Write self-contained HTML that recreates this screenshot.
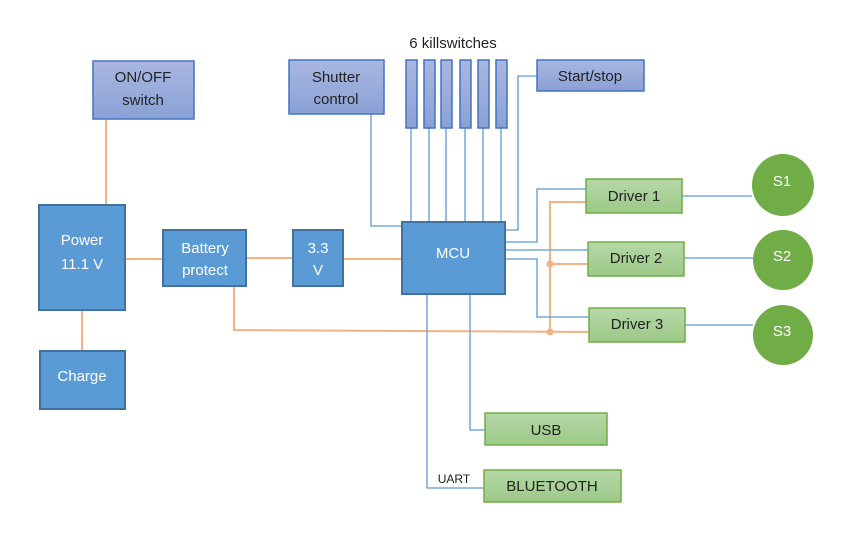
<!DOCTYPE html>
<html><head><meta charset="utf-8"><style>
html,body{margin:0;padding:0;background:#fff;}
svg{display:block;font-family:"Liberation Sans",sans-serif;}
</style></head><body>
<svg width="866" height="550" viewBox="0 0 866 550" xmlns="http://www.w3.org/2000/svg">
<defs>
<linearGradient id="gp" x1="0" y1="0" x2="0" y2="1"><stop offset="0" stop-color="#a9b7e0"/><stop offset="1" stop-color="#8aa1d6"/></linearGradient>
<linearGradient id="gg" x1="0" y1="0" x2="0" y2="1"><stop offset="0" stop-color="#b6d8a8"/><stop offset="1" stop-color="#9cc987"/></linearGradient>
</defs>
<g fill="none" stroke="#f4b183" stroke-width="2">
<path d="M106 119V204"/><path d="M82 310V351"/><path d="M125 259H163"/><path d="M246 258H293"/><path d="M343 259H402"/>
<path d="M234 286V330L589 332"/><path d="M550 332V202H586"/><path d="M550 264H588"/>
</g>
<circle cx="550" cy="264" r="3.5" fill="#f4b183"/><circle cx="550" cy="332" r="3.5" fill="#f4b183"/>
<g fill="none" stroke="#5b9bd5" stroke-width="1.3">
<path d="M371 114V226H402"/>
<path d="M411 128V222M429 128V222M446 128V222M465 128V222M483 128V222M501 128V222"/>
<path d="M537 76H518V230H505"/>
<path d="M505 242H537V189H586"/><path d="M505 250H588"/><path d="M505 259H537V317H589"/>
<path d="M682 196H752"/><path d="M684 258H753"/><path d="M685 325H753"/>
<path d="M427 294V488H484"/><path d="M470 294V430H485"/>
</g>
<g stroke="#4472c4" stroke-width="1.5" fill="url(#gp)">
<rect x="93" y="61" width="101" height="58"/><rect x="289" y="60" width="95" height="54"/>
<rect x="406" y="60" width="11" height="68"/><rect x="424" y="60" width="11" height="68"/><rect x="441" y="60" width="11" height="68"/>
<rect x="460" y="60" width="11" height="68"/><rect x="478" y="60" width="11" height="68"/><rect x="496" y="60" width="11" height="68"/>
<rect x="537" y="60" width="107" height="31"/>
</g>
<g stroke="#41719c" stroke-width="2" fill="#5b9bd5">
<rect x="39" y="205" width="86" height="105"/><rect x="40" y="351" width="85" height="58"/>
<rect x="163" y="230" width="83" height="56"/><rect x="293" y="230" width="50" height="56"/><rect x="402" y="222" width="103" height="72"/>
</g>
<g stroke="#70ad47" stroke-width="1.5" fill="url(#gg)">
<rect x="586" y="179" width="96" height="34"/><rect x="588" y="242" width="96" height="34"/><rect x="589" y="308" width="96" height="34"/>
<rect x="485" y="413" width="122" height="32"/><rect x="484" y="470" width="137" height="32"/>
</g>
<g fill="#70ad47"><circle cx="783" cy="185" r="31"/><circle cx="783" cy="260" r="30"/><circle cx="783" cy="335" r="30"/></g>
<g font-size="15" text-anchor="middle" fill="#222">
<text x="143" y="82">ON/OFF</text><text x="143" y="105">switch</text>
<text x="336" y="82">Shutter</text><text x="336" y="104">control</text>
<text x="453" y="48">6 killswitches</text>
<text x="590" y="81">Start/stop</text>
<text x="634" y="201">Driver 1</text><text x="636" y="263">Driver 2</text><text x="637" y="329">Driver 3</text>
<text x="546" y="435">USB</text><text x="552" y="491">BLUETOOTH</text>
</g>
<text x="454" y="483" font-size="12" text-anchor="middle" fill="#222">UART</text>
<g font-size="15" text-anchor="middle" fill="#fff">
<text x="82" y="245">Power</text><text x="82" y="269">11.1 V</text>
<text x="82" y="381">Charge</text>
<text x="205" y="253">Battery</text><text x="205" y="275">protect</text>
<text x="318" y="253">3.3</text><text x="318" y="275">V</text>
<text x="453" y="258">MCU</text>
<text x="782" y="186">S1</text><text x="782" y="261">S2</text><text x="782" y="336">S3</text>
</g>
</svg>
</body></html>
